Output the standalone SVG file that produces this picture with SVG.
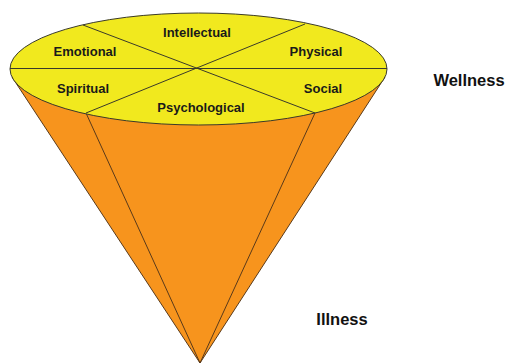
<svg xmlns="http://www.w3.org/2000/svg" width="507" height="364" viewBox="0 0 507 364">
<style>
.lbl{font-family:"Liberation Sans",Arial,sans-serif;font-weight:bold;font-size:13px;fill:#1a1a1a;text-anchor:middle}
.big{font-family:"Liberation Sans",Arial,sans-serif;font-weight:bold;font-size:16.5px;fill:#111;text-anchor:middle}
.edge{stroke:#5a3a1a;stroke-width:1;fill:none}
</style>
<rect width="507" height="364" fill="#fff"/>
<g id="cone">
<polygon points="12,77 200,363 385,77" fill="#F7941D" stroke="#5a3a1a" stroke-width="1"/>
</g>
<g id="connectors">
<line class="edge" x1="86" y1="113" x2="200" y2="363"/>
<line class="edge" x1="315" y1="113" x2="200" y2="363"/>
</g>
<g id="top">
<ellipse cx="198.5" cy="69" rx="188.5" ry="56" fill="#F1E91E" stroke="#3a3a2a" stroke-width="1"/>
<line x1="10" y1="68.5" x2="387" y2="68.5" stroke="#3a3a2a" stroke-width="1"/>
<line x1="83" y1="25" x2="315" y2="113" stroke="#3a3a2a" stroke-width="1"/>
<line x1="305" y1="24" x2="86" y2="113" stroke="#3a3a2a" stroke-width="1"/>
</g>
<g id="intellectual"><text class="lbl" x="197" y="37">Intellectual</text></g>
<g id="emotional"><text class="lbl" x="85" y="56">Emotional</text></g>
<g id="physical"><text class="lbl" x="316" y="56">Physical</text></g>
<g id="spiritual"><text class="lbl" x="83" y="93">Spiritual</text></g>
<g id="social"><text class="lbl" x="323" y="93">Social</text></g>
<g id="psychological"><text class="lbl" x="201" y="112">Psychological</text></g>
<g id="wellness"><text class="big" x="469" y="86">Wellness</text></g>
<g id="illness"><text class="big" x="342" y="325">Illness</text></g>
</svg>
